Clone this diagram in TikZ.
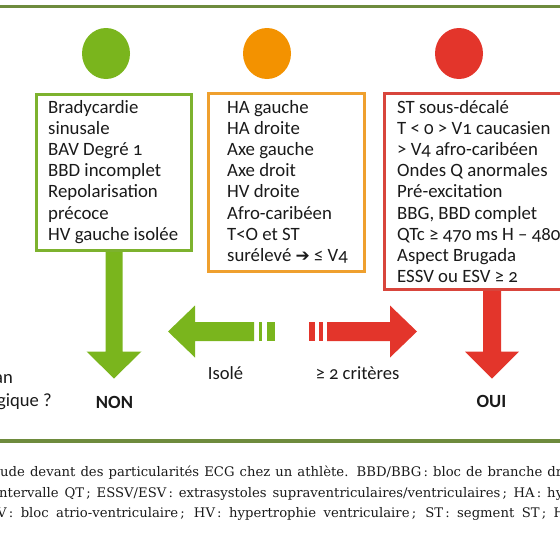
\documentclass[tikz,border=0pt]{standalone}
\usepackage{fontspec}
\setmainfont{Carlito}[Numbers=OldStyle]
\newfontfamily\capfont{DejaVu Serif}
\newfontfamily\symfont{DejaVu Sans}
\usetikzlibrary{shapes.geometric}
\definecolor{topline}{HTML}{6E8B3D}
\definecolor{cgreen}{HTML}{7AB51D}
\definecolor{corange}{HTML}{F39200}
\definecolor{cred}{HTML}{E3352B}
\definecolor{bgreen}{HTML}{7DB22E}
\definecolor{borange}{HTML}{EFA02E}
\definecolor{bred}{HTML}{D8453C}
\definecolor{txt}{HTML}{1A1A1A}
\tikzset{
  frame/.style={draw, line width=3pt, fill=white, inner sep=0pt},
  dot/.style={ellipse, minimum width=48pt, minimum height=51pt, inner sep=0pt},
  boxtext/.style={anchor=base west, inner sep=0pt, text=txt},
  label/.style={inner sep=0pt, text=txt, font=\fontsize{18.6}{21}\selectfont},
  caption/.style={anchor=base west, inner sep=0pt, text=txt, font=\capfont\fontsize{13.2}{14}\selectfont},
}
\newcommand{\boxlines}[1]{\parbox[t]{175pt}{\fontsize{18.8}{21.2}\selectfont\raggedright #1}}
\begin{document}
\begin{tikzpicture}[x=1pt,y=-1pt]
\useasboundingbox (0,0) rectangle (560,547);
% rules
\fill[topline] (0,5) rectangle (560,8);
\fill[topline] (0,439) rectangle (560,443);
% dots
\node[dot, fill=cgreen] (dg) at (106,53.5) {};
\node[dot, fill=corange] (do) at (267,53.5) {};
\node[dot, fill=cred] (dr) at (459,53.5) {};
% boxes
\node[frame, draw=bgreen, minimum width=155pt, minimum height=156pt] (gb) at (114,172.5) {};
\node[frame, draw=borange, minimum width=156pt, minimum height=178pt] (ob) at (286.5,182.5) {};
\node[frame, draw=bred, minimum width=215pt, minimum height=196pt] (rb) at (492,191.5) {};
% box texts
\node[boxtext] (gt) at (48,113) {\boxlines{Bradycardie\\sinusale\\BAV Degré 1\\BBD incomplet\\Repolarisation\\précoce\\HV gauche isolée}};
\node[boxtext] (ot) at (227,113) {\boxlines{HA gauche\\HA droite\\Axe gauche\\Axe droit\\HV droite\\Afro-caribéen\\T<O et ST\\surélevé {\symfont\fontsize{17}{18}\selectfont ➔} ≤ V4}};
\node[boxtext] (rt) at (397,113) {\boxlines{ST sous-décalé\\T < 0 > V1 caucasien\\> V4 afro-caribéen\\Ondes Q anormales\\Pré-excitation\\BBG, BBD complet\\QTc ≥ 470 ms H – 480\\Aspect Brugada\\ESSV ou ESV ≥ 2}};
% down arrows
\fill[cgreen] (gb.south) ++(-8.5,0) -- ++(0,99.5) -- ++(-19,0) -- ++(27.5,27) -- ++(27.5,-27) -- ++(-19,0) -- ++(0,-99.5) -- cycle;
\fill[cred] (rb.south) ++(-9,0) -- ++(0,60.5) -- ++(-18,0) -- ++(27,27) -- ++(27,-27) -- ++(-18,0) -- ++(0,-60.5) -- cycle;
% horizontal arrows
\coordinate (gtip) at (168,331.5);
\coordinate (rtip) at (417,331.5);
\fill[cgreen] (gtip) -- ++(27,-26) -- ++(0,16.5) -- ++(59,0) -- ++(0,19) -- ++(-59,0) -- ++(0,16.5) -- cycle;
\fill[cgreen] (gtip) ++(91,-9.5) rectangle ++(3,19);
\fill[cgreen] (gtip) ++(99,-9.5) rectangle ++(8,19);
\fill[cred] (rtip) -- ++(-27,-26) -- ++(0,16.5) -- ++(-63,0) -- ++(0,19) -- ++(63,0) -- ++(0,16.5) -- cycle;
\fill[cred] (rtip) ++(-98,-9.5) rectangle ++(4,19);
\fill[cred] (rtip) ++(-108,-9.5) rectangle ++(6,19);
% labels
\node[label, anchor=base] (iso) at (225.5,379) {Isolé};
\node[label, anchor=base] (crit) at (357.5,379) {≥ 2 critères};
\node[label, anchor=base, font=\fontsize{18.6}{21}\selectfont\bfseries] (non) at (114.5,408) {NON};
\node[label, anchor=base, font=\fontsize{18.6}{21}\selectfont\bfseries] (oui) at (491.5,407) {OUI};
\node[label, anchor=base east] (q1) at (13,383) {an};
\node[label, anchor=base east] (q2) at (52,406) {gique ?};
% caption
\node[caption] (c1) at (0,476) {\hbox to 562pt{ude devant des particularités ECG chez un athlète. BBD/BBG\,: bloc de branche dr}};
\node[caption] (c2) at (-1,497) {\hbox to 564pt{ntervalle QT\,; ESSV/ESV\,: extrasystoles supraventriculaires/ventriculaires\,; HA\,: hy}};
\node[caption] (c3) at (-3,517) {\hbox to 568pt{V\,: bloc atrio-ventriculaire\,; HV\,: hypertrophie ventriculaire\,; ST\,: segment ST\,; H}};
\end{tikzpicture}
\end{document}
